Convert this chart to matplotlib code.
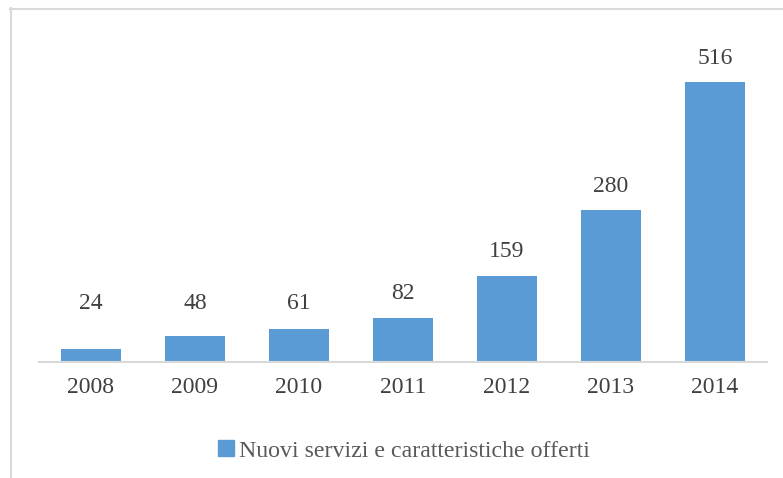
import matplotlib.pyplot as plt
from matplotlib.lines import Line2D
from matplotlib.patches import Patch

# data
years = ["2008", "2009", "2010", "2011", "2012", "2013", "2014"]
values = [24, 48, 61, 82, 159, 280, 516]
series_name = "Nuovi servizi e caratteristiche offerti"

BAR_COLOR = "#5B9BD5"
TEXT_COLOR = "#404040"
GRID_COLOR = "#D9D9D9"

plt.rcParams["font.family"] = ["Liberation Serif", "DejaVu Serif"]

fig = plt.figure(figsize=(7.83, 4.78), dpi=100)
ax = fig.add_axes([39 / 783, 1 - 362 / 478, 728 / 783, (362 - 36.5) / 478])

x = range(len(years))
bars = ax.bar(x, values, width=0.577, color=BAR_COLOR)

# data labels (small bars share a common label height, like the original)
for xi, v in zip(x, values):
    ax.text(xi, max(v, 63) + 44, str(v), ha="center", va="center",
            fontsize=17, color=TEXT_COLOR)

ax.set_xlim(-0.5, len(years) - 0.5)
ax.set_ylim(0, 600)
ax.set_xticks(list(x))
ax.set_xticklabels(years, fontsize=17, color=TEXT_COLOR)
ax.tick_params(axis="x", length=0, pad=11)
ax.set_yticks([])
for side in ["top", "right", "left"]:
    ax.spines[side].set_visible(False)
ax.spines["bottom"].set_color(GRID_COLOR)
ax.spines["bottom"].set_linewidth(1.5)

# legend under the chart
fig.legend(handles=[Patch(color=BAR_COLOR, label=series_name)],
           loc="center", bbox_to_anchor=(404 / 783, 1 - 451 / 478),
           frameon=False, fontsize=17.2, handlelength=0.65, handleheight=0.65,
           handletextpad=0.2, labelcolor="#595959")

# outer chart frame (only left and top edges are visible in the crop)
fig.add_artist(Line2D([10.5 / 783, 10.5 / 783], [0, 1 - 8 / 478],
                      transform=fig.transFigure, color=GRID_COLOR, lw=1.5))
fig.add_artist(Line2D([10 / 783, 1], [1 - 8.5 / 478, 1 - 8.5 / 478],
                      transform=fig.transFigure, color=GRID_COLOR, lw=1.5))

fig.savefig("out.png", dpi=100)
